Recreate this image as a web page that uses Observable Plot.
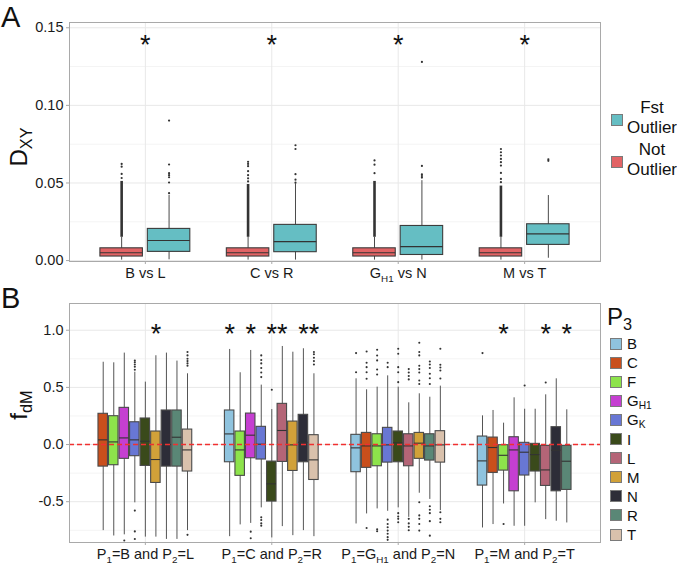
<!DOCTYPE html>
<html><head><meta charset="utf-8">
<script src="https://cdn.jsdelivr.net/npm/d3@7"></script>
<script src="https://cdn.jsdelivr.net/npm/@observablehq/plot@0.6"></script>
<style>
body{margin:0;background:#fff;font-family:"Liberation Sans",Arial,Helvetica,sans-serif;color:#111;}
#wrap{position:relative;width:677px;height:566px;overflow:hidden;}
.abs{position:absolute;}
.plot{position:absolute;left:0;}
sub{font-size:0.68em;vertical-align:-0.28em;line-height:0;}
.ytitle{position:absolute;white-space:nowrap;font-size:24px;line-height:1;transform:translate(-50%,-50%) rotate(-90deg);}
.panel{position:absolute;font-size:29px;line-height:1;}
.sw{position:absolute;width:12px;height:12px;box-sizing:border-box;border:1px solid #7a7a7a;}
</style></head><body><div id="wrap"></div>
<script>
// ---------------- Panel A data ----------------
const comparisons = ["B vs L", "C vs R", "G_{H1} vs N", "M vs T"];
const outlierGroups = ["Not Outlier", "Fst Outlier"];
const outlierColors = ["#e26365", "#65bec3"];
// [lower whisker, q1, median, q3, upper whisker]
const notOutlierStats = [
  [0.0003, 0.0026, 0.0050, 0.0079, 0.0150],
  [0.0003, 0.0026, 0.0050, 0.0079, 0.0150],
  [0.0003, 0.0026, 0.0050, 0.0079, 0.0150],
  [0.0003, 0.0026, 0.0050, 0.0079, 0.0150]
];
const fstOutlierStats = [
  [0.0005, 0.0056, 0.0129, 0.0204, 0.0420],
  [0.0003, 0.0054, 0.0122, 0.0230, 0.0494],
  [0.0003, 0.0036, 0.0090, 0.0223, 0.0515],
  [0.0015, 0.0101, 0.0172, 0.0234, 0.0419]
];
// dense run of outlier points [from, to]
const notOutlierDense = [[0.015, 0.051], [0.015, 0.049], [0.015, 0.051], [0.015, 0.048]];
const notOutlierPoints = [
  [0.0532, 0.0558, 0.0605, 0.0623],
  [0.0510, 0.0530, 0.0550, 0.0576, 0.0608, 0.0623, 0.0636],
  [0.0563, 0.0618, 0.0645],
  [0.0505, 0.0526, 0.0565, 0.0612, 0.0634, 0.0655, 0.0677, 0.0698, 0.0719]
];
const fstOutlierPoints = [
  [0.0434, 0.0503, 0.0537, 0.0550, 0.0563, 0.0619, 0.0902],
  [0.0502, 0.0521, 0.0557, 0.0719, 0.0743],
  [0.0535, 0.0545, 0.0555, 0.0610, 0.1280],
  [0.0643, 0.0653]
];
const starsA = ["B vs L", "C vs R", "G_{H1} vs N", "M vs T"];
const starYA = 0.1425;
const ticksA = [0, 0.05, 0.10, 0.15];
const minorA = [0.025, 0.075, 0.125];

// ---------------- Panel B data ----------------
const pairs = ["P_{1}=B and P_{2}=L", "P_{1}=C and P_{2}=R", "P_{1}=G_{H1} and P_{2}=N", "P_{1}=M and P_{2}=T"];
const p3Names = ["B", "C", "F", "G_{H1}", "G_{K}", "I", "L", "M", "N", "R", "T"];
const p3Colors = ["#8fc3de", "#c94f1c", "#8de34b", "#c53fd1", "#6877d4", "#3a4a1b", "#b46577", "#d1a139", "#2d2d38", "#5a8776", "#d9c1ac"];
// [P3, lower whisker, q1, median, q3, upper whisker]
const statsBL = [
  ["C", -0.753, -0.193, 0.041, 0.269, 0.720],
  ["F", -0.800, -0.181, 0.023, 0.248, 0.715],
  ["G_{H1}", -0.790, -0.125, 0.058, 0.321, 0.800],
  ["G_{K}", -0.510, -0.102, 0.041, 0.195, 0.633],
  ["I", -0.810, -0.187, 0.029, 0.228, 0.546],
  ["M", -0.810, -0.336, -0.131, 0.114, 0.777],
  ["N", -0.830, -0.193, 0.000, 0.298, 0.800],
  ["R", -0.830, -0.193, 0.064, 0.298, 0.730],
  ["T", -0.753, -0.236, -0.047, 0.131, 0.619]
];
const statsCR = [
  ["B", -0.806, -0.155, 0.093, 0.298, 0.832],
  ["F", -0.703, -0.274, -0.047, 0.114, 0.628],
  ["G_{H1}", -0.690, -0.120, 0.082, 0.271, 0.823],
  ["G_{K}", -0.554, -0.131, 0.003, 0.155, 0.520],
  ["I", -0.817, -0.499, -0.344, -0.149, 0.306],
  ["L", -0.718, -0.152, 0.123, 0.356, 0.858],
  ["M", -0.797, -0.231, -0.003, 0.201, 0.808],
  ["N", -0.753, -0.155, 0.020, 0.260, 0.838],
  ["T", -0.806, -0.310, -0.134, 0.082, 0.619]
];
const statsGN = [
  ["B", -0.695, -0.242, -0.029, 0.085, 0.575],
  ["C", -0.607, -0.204, -0.012, 0.102, 0.479],
  ["F", -0.563, -0.190, -0.012, 0.090, 0.502],
  ["G_{K}", -0.584, -0.158, -0.003, 0.146, 0.601],
  ["I", -0.554, -0.155, 0.015, 0.114, 0.502],
  ["L", -0.637, -0.190, -0.012, 0.090, 0.365],
  ["M", -0.426, -0.125, 0.012, 0.102, 0.444],
  ["R", -0.480, -0.140, -0.012, 0.090, 0.414],
  ["T", -0.578, -0.158, -0.003, 0.117, 0.511]
];
const statsMT = [
  ["B", -0.730, -0.359, -0.143, 0.070, 0.251],
  ["C", -0.700, -0.248, -0.026, 0.061, 0.298],
  ["F", -0.520, -0.228, -0.094, -0.006, 0.187],
  ["G_{H1}", -0.715, -0.409, -0.047, 0.064, 0.409],
  ["G_{K}", -0.715, -0.271, -0.067, 0.015, 0.309],
  ["I", -0.510, -0.236, -0.088, 0.006, 0.309],
  ["L", -0.657, -0.362, -0.222, -0.012, 0.435],
  ["N", -0.671, -0.409, -0.050, 0.152, 0.575],
  ["R", -0.686, -0.397, -0.146, -0.012, 0.304]
];
// outlier points: [P3, values]
const outBL = [
  ["G_{H1}", [-0.84]],
  ["G_{K}", [0.655, 0.68, 0.70, 0.72, 0.735, -0.578, -0.76, -0.826]],
  ["T", [0.69, 0.71, 0.73, 0.75, 0.78, 0.81, -0.79]]
];
const outCR = [
  ["G_{H1}", [-0.762, -0.82]],
  ["G_{K}", [0.59, 0.63, 0.67, 0.71, 0.74, 0.78, -0.637, -0.66, -0.69, -0.71]],
  ["I", [0.479]],
  ["T", [0.70, 0.73, 0.76, 0.79, 0.81]]
];
const outGN = [
  ["B", [0.633, 0.80]],
  ["C", [0.575, 0.633, 0.677, 0.715, 0.814, -0.73]],
  ["F", [0.613, 0.657, 0.736, 0.779, 0.829, -0.742, -0.759]],
  ["G_{K}", [0.677, 0.715, -0.657, -0.695, -0.724, -0.753, -0.78, -0.81, -0.834]],
  ["I", [0.546, 0.633, 0.677, 0.794, 0.838, -0.60, -0.63, -0.65, -0.68]],
  ["L", [0.57, 0.60, 0.63, 0.66, -0.65, -0.69, -0.72, -0.75]],
  ["M", [0.53, 0.56, 0.63, 0.66, 0.69, 0.78, 0.81, 0.89, -0.505, -0.62, -0.65, -0.695, -0.753]],
  ["R", [0.53, 0.58, 0.62, 0.67, 0.70, 0.727, -0.54, -0.57, -0.60, -0.67, -0.797]],
  ["T", [0.578, 0.648, 0.674, 0.698, 0.838, -0.593, -0.65, -0.68]]
];
const outMT = [
  ["B", [0.80]],
  ["F", [-0.695]],
  ["G_{K}", [0.517]],
  ["L", [0.543]]
];
// significance stars: [pair index, P3]
const starsB = [[0, "M"], [1, "B"], [1, "G_{H1}"], [1, "I"], [1, "L"], [1, "N"], [1, "T"], [3, "F"], [3, "L"], [3, "R"]];
const starYB = 1.02;
const ticksB = [-0.5, 0, 0.5, 1.0];
const minorB = [-0.75, -0.25, 0.25, 0.75];

// ---------------- helpers ----------------
const FONT = '"Liberation Sans", Arial, Helvetica, sans-serif';
const GRID = "#e8e8e8", GRIDMINOR = "#f4f4f4", BORDER = "#a9a9a9";
const AXFS = 14.5;
function subify(svg, fs) {
  const ns = "http://www.w3.org/2000/svg";
  svg.querySelectorAll("text").forEach(el => {
    const s = el.textContent;
    if (!s.includes("_{")) return;
    while (el.firstChild) el.removeChild(el.firstChild);
    const re = /_\{([^}]*)\}/g;
    let last = 0, m, shifted = false;
    const shift = fs * 0.28;
    const add = (txt, sub) => {
      const t = document.createElementNS(ns, "tspan");
      t.textContent = txt;
      if (sub) { t.setAttribute("font-size", fs * 0.68); t.setAttribute("dy", shift); shifted = true; }
      else if (shifted) { t.setAttribute("dy", -shift); shifted = false; }
      el.appendChild(t);
    };
    while ((m = re.exec(s))) {
      if (m.index > last) add(s.slice(last, m.index), false);
      add(m[1], true);
      last = re.lastIndex;
    }
    if (last < s.length) add(s.slice(last), false);
  });
}
function htmlSub(s) { return s.replace(/_\{([^}]*)\}/g, "<sub>$1</sub>"); }

// ---------------- Panel A ----------------
const rowsA = [], denseA = [], ptsA = [];
comparisons.forEach((c, i) => {
  [notOutlierStats[i], fstOutlierStats[i]].forEach((s, g) => {
    const xc = i + (g === 0 ? -1 : 1) * 0.1875;
    rowsA.push({grp: outlierGroups[g], xc, x1: xc - 0.168, x2: xc + 0.168, lo: s[0], q1: s[1], med: s[2], q3: s[3], hi: s[4]});
  });
  const xn = i - 0.1875, xf = i + 0.1875;
  denseA.push({xc: xn, lo: notOutlierDense[i][0], hi: notOutlierDense[i][1]});
  notOutlierPoints[i].forEach(v => ptsA.push({xc: xn, v}));
  fstOutlierPoints[i].forEach(v => ptsA.push({xc: xf, v}));
});
const starRowsA = starsA.map(c => ({xc: comparisons.indexOf(c), y: starYA}));

const plotA = Plot.plot({
  width: 677, height: 283,
  marginLeft: 69, marginRight: 77, marginTop: 22, marginBottom: 22,
  style: {fontFamily: FONT, fontSize: "14px", color: "#1a1a1a", background: "transparent", overflow: "visible"},
  x: {domain: [-0.6, 3.6], axis: null},
  y: {domain: [-0.0006, 0.1534], axis: null},
  color: {domain: outlierGroups, range: outlierColors},
  marks: [
    Plot.ruleY(minorA, {stroke: GRIDMINOR}),
    Plot.ruleY(ticksA, {stroke: GRID}),
    Plot.ruleX([0, 1, 2, 3], {stroke: GRID}),
    Plot.ruleX(rowsA, {x: "xc", y1: "lo", y2: "hi", stroke: "#4a4a4a", strokeWidth: 1}),
    Plot.ruleX(denseA, {x: "xc", y1: "lo", y2: "hi", stroke: "#333", strokeWidth: 2.6}),
    Plot.dot(ptsA, {x: "xc", y: "v", r: 1.1, fill: "#333", stroke: null}),
    Plot.rect(rowsA, {x1: "x1", x2: "x2", y1: "q1", y2: "q3", fill: "grp", stroke: "#3c3c3c", strokeWidth: 1.1}),
    Plot.ruleY(rowsA, {x1: "x1", x2: "x2", y: "med", stroke: "#333", strokeWidth: 1.1}),
    Plot.text(starRowsA, {x: "xc", y: "y", text: () => "*", fontSize: 27, dy: 6, fill: "#111", lineAnchor: "middle"}),
    Plot.frame({stroke: BORDER}),
    Plot.axisY({ticks: ticksA, tickFormat: d => d.toFixed(2), tickSize: 3, tickPadding: 3, label: null, stroke: BORDER, fill: "#1a1a1a", fontSize: AXFS}),
    Plot.axisX({ticks: [0, 1, 2, 3], tickFormat: i => comparisons[i], tickSize: 3, tickPadding: 3, label: null, stroke: BORDER, fill: "#1a1a1a", fontSize: AXFS})
  ]
});
subify(plotA, AXFS);
plotA.classList.add("plot");
plotA.style.top = "0px";

// ---------------- Panel B ----------------
const rowsB = [], ptsB = [], starRowsB = [];
const allStats = [statsBL, statsCR, statsGN, statsMT];
const allOut = [outBL, outCR, outGN, outMT];
const slotX = (g, p3) => {
  const list = allStats[g], n = list.length;
  const k = list.findIndex(r => r[0] === p3);
  return g - 0.375 + (k + 0.5) * 0.75 / n;
};
allStats.forEach((list, g) => {
  const w = 0.75 / list.length * 0.45;
  list.forEach(r => {
    const xc = slotX(g, r[0]);
    rowsB.push({p3: r[0], xc, x1: xc - w, x2: xc + w, lo: r[1], q1: r[2], med: r[3], q3: r[4], hi: r[5]});
  });
  allOut[g].forEach(([p3, vals]) => vals.forEach(v => ptsB.push({xc: slotX(g, p3), v})));
});
starsB.forEach(([g, p3]) => starRowsB.push({xc: slotX(g, p3), y: starYB}));

const plotB = Plot.plot({
  width: 677, height: 283,
  marginLeft: 69, marginRight: 77, marginTop: 20, marginBottom: 24,
  style: {fontFamily: FONT, fontSize: "14px", color: "#1a1a1a", background: "transparent", overflow: "visible"},
  x: {domain: [-0.6, 3.6], axis: null},
  y: {domain: [-0.857, 1.234], axis: null},
  color: {domain: p3Names, range: p3Colors},
  marks: [
    Plot.ruleY(minorB, {stroke: GRIDMINOR}),
    Plot.ruleY(ticksB, {stroke: GRID}),
    Plot.ruleX([0, 1, 2, 3], {stroke: GRID}),
    Plot.ruleX(rowsB, {x: "xc", y1: "lo", y2: "hi", stroke: "#555", strokeWidth: 1}),
    Plot.dot(ptsB, {x: "xc", y: "v", r: 1.05, fill: "#333", stroke: null}),
    Plot.rect(rowsB, {x1: "x1", x2: "x2", y1: "q1", y2: "q3", fill: "p3", stroke: "#4a4a4a", strokeWidth: 1.1}),
    Plot.ruleY(rowsB, {x1: "x1", x2: "x2", y: "med", stroke: "#333", strokeWidth: 1.1}),
    Plot.ruleY([0], {stroke: "#f03030", strokeDasharray: "5,3", strokeWidth: 1.4}),
    Plot.text(starRowsB, {x: "xc", y: "y", text: () => "*", fontSize: 27, dy: 6, fill: "#111", lineAnchor: "middle"}),
    Plot.frame({stroke: BORDER}),
    Plot.axisY({ticks: ticksB, tickFormat: d => d.toFixed(1), tickSize: 3, tickPadding: 3, label: null, stroke: BORDER, fill: "#1a1a1a", fontSize: AXFS}),
    Plot.axisX({ticks: [0, 1, 2, 3], tickFormat: i => pairs[i], tickSize: 3, tickPadding: 3, label: null, stroke: BORDER, fill: "#1a1a1a", fontSize: AXFS})
  ]
});
subify(plotB, AXFS);
plotB.classList.add("plot");
plotB.style.top = "283px";

// ---------------- page assembly ----------------
const wrap = document.getElementById("wrap");
wrap.appendChild(plotA);
wrap.appendChild(plotB);
const add = (html, css, cls) => {
  const d = document.createElement("div");
  d.className = cls || "abs";
  d.innerHTML = html;
  Object.assign(d.style, css);
  wrap.appendChild(d);
  return d;
};
add("A", {left: "1px", top: "3px"}, "panel");
add("B", {left: "1px", top: "284px"}, "panel");
add("D<sub>XY</sub>", {left: "19px", top: "147px"}, "ytitle");
add("f<sub>dM</sub>", {left: "19px", top: "405px"}, "ytitle");

// legend A (Fst Outlier on top)
[1, 0].forEach((g, k) => {
  const top = 98 + 42 * k;
  add("", {left: "611px", top: (top + 15.5) + "px", background: outlierColors[g]}, "sw");
  add(outlierGroups[g].replace(" ", "<br>"), {left: "626px", top: top + "px", width: "52px", textAlign: "center", fontSize: "17px", lineHeight: "20px"});
});
// legend B
add("P<sub>3</sub>", {left: "607px", top: "305px", fontSize: "24px", lineHeight: "1"});
p3Names.forEach((name, k) => {
  const cy = 343.5 + 19.1 * k;
  add("", {left: "610px", top: (cy - 6) + "px", background: p3Colors[k]}, "sw");
  add(htmlSub(name), {left: "627px", top: (cy - 9.5) + "px", fontSize: "15px", lineHeight: "19px"});
});
</script></body></html>
